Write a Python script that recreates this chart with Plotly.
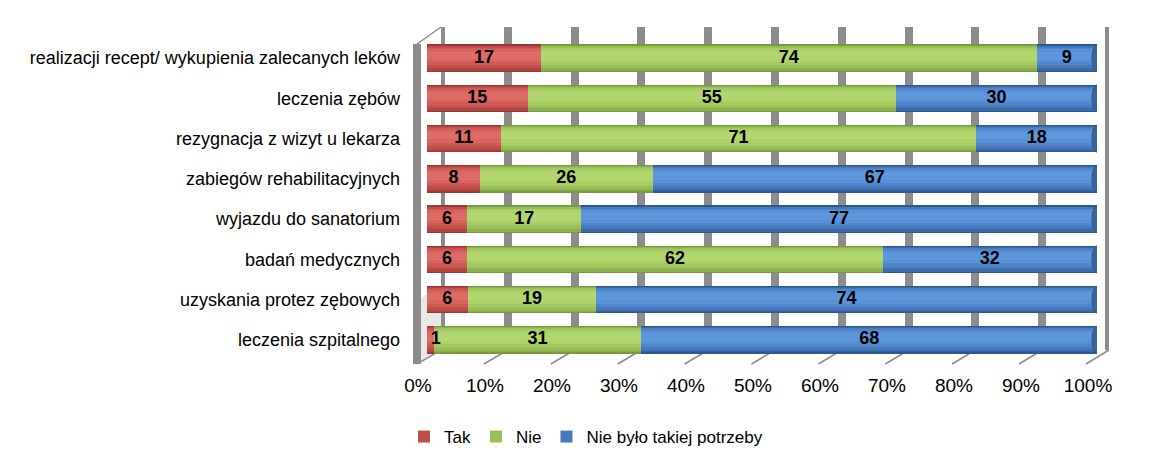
import numpy as np
import plotly.graph_objects as go

categories = [
    "realizacji recept/ wykupienia zalecanych leków",
    "leczenia zębów",
    "rezygnacja z wizyt u lekarza",
    "zabiegów rehabilitacyjnych",
    "wyjazdu do sanatorium",
    "badań medycznych",
    "uzyskania protez zębowych",
    "leczenia szpitalnego",
]
tak = [17, 15, 11, 8, 6, 6, 6, 1]
nie = [74, 55, 71, 26, 17, 62, 19, 31]
brak = [9, 30, 18, 67, 77, 32, 74, 68]
series_names = ["Tak", "Nie", "Nie było takiej potrzeby"]
x_ticks = [0, 10, 20, 30, 40, 50, 60, 70, 80, 90, 100]
x_ticktext = [f"{t}%" for t in x_ticks]

# style
W, H = 1174, 469
layer_colors = [
    ["#9A3A37", "#B04441", "#C24E4B", "#CF5955", "#D9635F", "#DE6C68"],
    ["#7B9A40", "#8DAF4D", "#9BBF58", "#A5CA61", "#ADD269", "#B3D770"],
    ["#2E5890", "#3A69A8", "#4579BC", "#4F85CA", "#5891D5", "#5E97DB"],
]
layer_widths = [0.68, 0.62, 0.54, 0.44, 0.32, 0.18]
layer_offsets = [0.0, 0.0, -0.02, -0.04, -0.06, -0.07]
FONT = "Liberation Sans, Arial, sans-serif"
GC = "#8C8C8C"
BAR_L, BAR_R = 427, 1097       # bar axis (mid depth)
BACK_L, BACK_R = 441, 1109     # back wall
FRONT_L, FRONT_R = 417, 1086   # front edge
TOP_BACK, TOP_FRONT = 27, 44
FLOOR_BACK, FLOOR_FRONT = 350, 364


def px(v):
    return v / W


def py(v):
    return 1 - v / H


vals = np.array([tak, nie, brak], dtype=float)
norm = vals / vals.sum(axis=0) * 100
bases = np.vstack([np.zeros(len(categories)), np.cumsum(norm, axis=0)[:-1]])
ypos = np.arange(len(categories))

fig = go.Figure()
# back-wall gridlines: thin filled columns on their own subplot (x / y)
fig.add_trace(go.Bar(x=x_ticks, y=[1] * len(x_ticks), xaxis="x", yaxis="y", width=1.2,
                     marker=dict(color=GC, line=dict(width=0)), showlegend=False,
                     hoverinfo="skip"))

for li, w in enumerate(layer_widths):
    for si, name in enumerate(series_names):
        fig.add_trace(go.Bar(
            y=ypos + layer_offsets[li], x=norm[si], base=bases[si], orientation="h",
            width=w, name=name, xaxis="x2", yaxis="y2",
            marker=dict(color=layer_colors[si][li], line=dict(width=0)),
            showlegend=(li == 2), legendrank=si,
            hoverinfo="skip",
        ))

for si in range(3):
    fig.add_trace(go.Scatter(
        y=ypos, x=bases[si] + norm[si] / 2 + (0.8 if si == 0 else 0) * (norm[si] < 3),
        xaxis="x2", yaxis="y2",
        mode="text", text=[str(int(v)) for v in vals[si]],
        textfont=dict(family=FONT, size=18, color="black", weight="bold"),
        showlegend=False, hoverinfo="skip",
    ))

shapes = []
for t in x_ticks:
    xf = FRONT_L + (FRONT_R - FRONT_L) * t / 100
    xb = BACK_L + (BACK_R - BACK_L) * t / 100
    shapes.append(dict(type="line", xref="paper", yref="paper",
                       x0=px(xf), x1=px(xb), y0=py(FLOOR_FRONT), y1=py(FLOOR_BACK),
                       line=dict(color=GC, width=1.5), layer="below"))
shapes.append(dict(type="path", xref="paper", yref="paper",
                   path=(f"M {px(FRONT_L)},{py(300)} L {px(BACK_L)},{py(286)} "
                         f"L {px(BACK_L)},{py(FLOOR_BACK)} L {px(FRONT_L)},{py(FLOOR_FRONT)} Z"),
                   fillcolor="rgba(190,190,190,0.35)", line=dict(width=0), layer="below"))
shapes.append(dict(type="rect", xref="paper", yref="paper",
                   x0=px(FRONT_L - 4), x1=px(FRONT_L + 4), y0=py(FLOOR_FRONT), y1=py(TOP_FRONT),
                   fillcolor=GC, line=dict(width=0), layer="below"))
shapes.append(dict(type="line", xref="paper", yref="paper",
                   x0=px(FRONT_L), x1=px(BACK_L), y0=py(TOP_FRONT), y1=py(TOP_BACK),
                   line=dict(color=GC, width=1.5), layer="below"))
for yi in ypos:
    shapes.append(dict(type="circle", xref="x2", yref="y2", xsizemode="pixel", ysizemode="pixel",
                       xanchor=0, yanchor=yi, x0=-5, x1=5, y0=-13.5, y1=13.5,
                       fillcolor=layer_colors[0][3], line=dict(width=0), layer="below"))
    shapes.append(dict(type="circle", xref="x2", yref="y2", xsizemode="pixel", ysizemode="pixel",
                       xanchor=100, yanchor=yi, x0=-5, x1=5, y0=-13.5, y1=13.5,
                       fillcolor="#3A64A0", line=dict(color="#2E5890", width=1), layer="above"))

fig.update_layout(
    template="none",
    width=W, height=H,
    margin=dict(l=0, r=0, t=0, b=0),
    paper_bgcolor="white", plot_bgcolor="rgba(255,255,255,0)",
    barmode="overlay", bargap=0,
    font=dict(family=FONT, size=18, color="black"),
    shapes=shapes,
    xaxis=dict(domain=[px(BACK_L), px(BACK_R)], range=[0, 100], visible=False,
               anchor="y", automargin=False),
    yaxis=dict(domain=[py(FLOOR_BACK), py(TOP_BACK)], range=[0, 1], visible=False,
               anchor="x", automargin=False),
    xaxis2=dict(domain=[px(BAR_L), px(BAR_R)], range=[0, 100], tickvals=x_ticks, ticktext=x_ticktext,
                showgrid=False, zeroline=False, showline=False, ticks="", anchor="y2",
                ticklabelstandoff=12, ticklabelshift=-9, tickfont=dict(size=19), automargin=False),
    yaxis2=dict(domain=[py(360), py(38)], range=[len(categories) - 0.5, -0.5], anchor="x2",
                tickvals=ypos, ticktext=categories, showgrid=False, zeroline=False,
                showline=False, ticks="", ticklabelstandoff=26, tickfont=dict(size=18),
                automargin=False),
    legend=dict(orientation="h", x=px(586), xanchor="center", y=py(437), yanchor="middle",
                font=dict(size=17), traceorder="normal", itemwidth=30),
)

fig.write_html("out.html")
